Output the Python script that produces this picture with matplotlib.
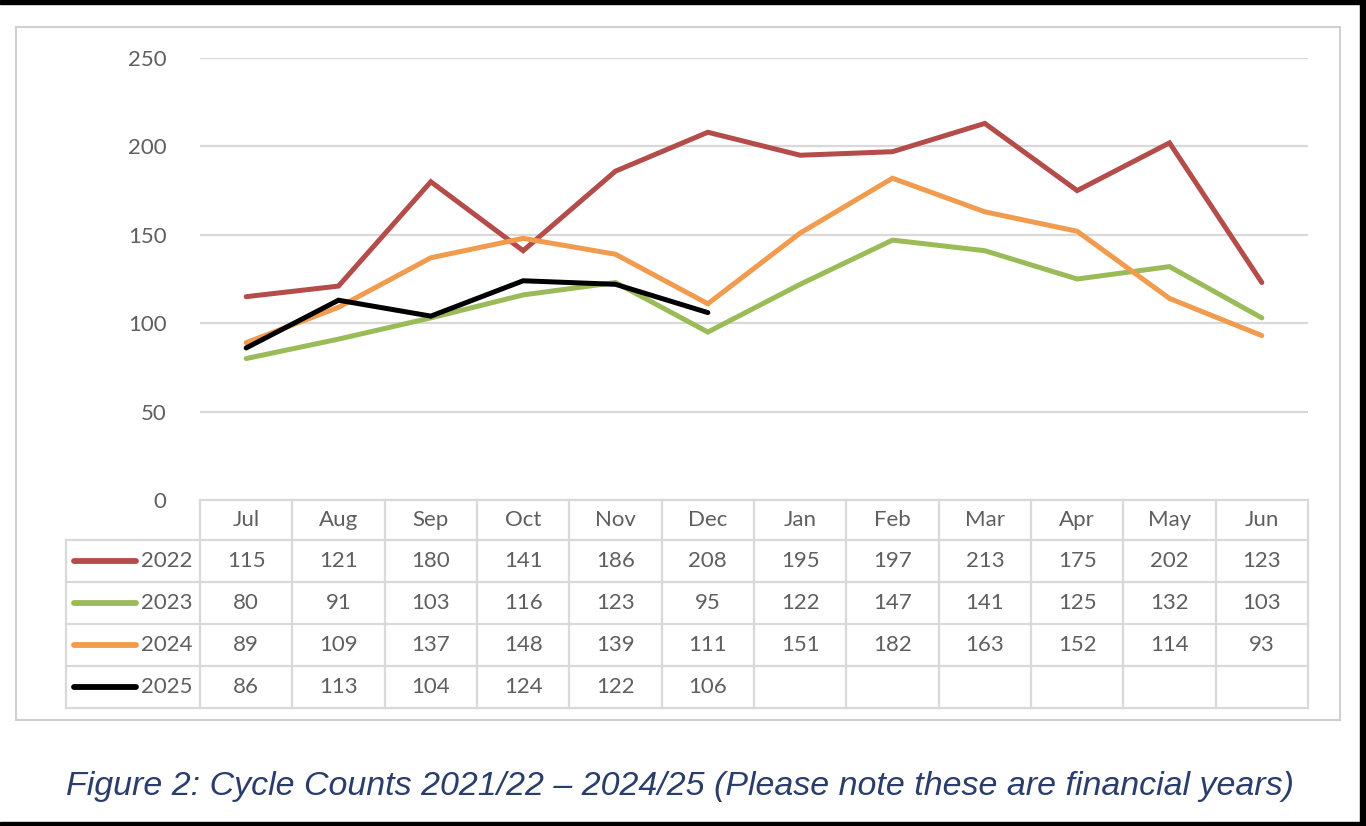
import matplotlib.pyplot as plt
import matplotlib.patches as patches
import numpy as np

# data
months = ["Jul", "Aug", "Sep", "Oct", "Nov", "Dec", "Jan", "Feb", "Mar", "Apr", "May", "Jun"]
years = ["2022", "2023", "2024", "2025"]
counts_2022 = [115, 121, 180, 141, 186, 208, 195, 197, 213, 175, 202, 123]
counts_2023 = [80, 91, 103, 116, 123, 95, 122, 147, 141, 125, 132, 103]
counts_2024 = [89, 109, 137, 148, 139, 111, 151, 182, 163, 152, 114, 93]
counts_2025 = [86, 113, 104, 124, 122, 106]
y_ticks = [0, 50, 100, 150, 200, 250]
colors = ["#b44c4a", "#9bbb59", "#f19b4f", "#000000"]
caption = "Figure 2: Cycle Counts 2021/22 \u2013 2024/25 (Please note these are financial years)"

series = [counts_2022, counts_2023, counts_2024, counts_2025]

W, H = 1366, 826
grid_col = "#d9d9d9"
text_col = "#5f5f5f"
font = "Lato"
fs = 16

fig = plt.figure(figsize=(W / 100, H / 100), dpi=100)
fig.patch.set_facecolor("white")

# black frame around the picture (top, right, bottom)
frame = fig.add_axes([0, 0, 1, 1], zorder=-5)
frame.set_xlim(0, W)
frame.set_ylim(H, 0)
frame.axis("off")
frame.add_patch(patches.Rectangle((0, 0), W, 4, color="black"))
frame.add_patch(patches.Rectangle((1360, 0), W - 1360, H, color="black"))
frame.add_patch(patches.Rectangle((0, 822), W, H - 822, color="black"))
# light chart border
frame.add_patch(patches.Rectangle((16, 27), 1340 - 16, 720 - 27, fill=False,
                                  edgecolor="#d0d0d0", lw=1.5))

# plot area
x0, x1, ytop, ybot = 200, 1308, 58, 500
ax = fig.add_axes([x0 / W, (H - ybot) / H, (x1 - x0) / W, (ybot - ytop) / H])
x = np.arange(len(months))
for vals, c in zip(series, colors):
    ax.plot(x[:len(vals)], vals, color=c, lw=3.6, solid_capstyle="round",
            solid_joinstyle="miter")
ax.set_xlim(-0.5, len(months) - 0.5)
ax.set_ylim(0, 250)
ax.set_yticks(y_ticks)
ax.set_yticklabels([str(t) for t in y_ticks], fontsize=fs, color=text_col, fontname=font)
ax.tick_params(axis="y", length=0, pad=24)
ax.set_xticks([])
for t in y_ticks[1:]:
    ax.axhline(t, color=grid_col, lw=1.6, zorder=0)
for s in ax.spines.values():
    s.set_visible(False)
ax.patch.set_alpha(0)

# data table under the plot
tx0, ty0, row_h, head_h = 66, 500, 42, 40
col_w = (x1 - x0) / len(months)
tb = fig.add_axes([0, 0, 1, 1], zorder=2)
tb.set_xlim(0, W)
tb.set_ylim(H, 0)
tb.axis("off")
n_rows = len(years)
ybottom = ty0 + head_h + n_rows * row_h
lk = dict(color=grid_col, lw=1.6)
# horizontal lines
tb.plot([x0, x1], [ty0, ty0], **lk)
for r in range(n_rows + 1):
    yy = ty0 + head_h + r * row_h
    tb.plot([tx0, x1], [yy, yy], **lk)
# vertical lines
tb.plot([tx0, tx0], [ty0 + head_h, ybottom], **lk)
for i in range(len(months) + 1):
    xx = x0 + i * col_w
    tb.plot([xx, xx], [ty0, ybottom], **lk)
# header
for i, m in enumerate(months):
    tb.text(x0 + (i + 0.5) * col_w, ty0 + head_h / 2, m, ha="center", va="center",
            fontsize=fs, color=text_col, fontname=font)
# rows
for r, (yr, vals, c) in enumerate(zip(years, series, colors)):
    yc = ty0 + head_h + (r + 0.5) * row_h
    tb.plot([74, 136], [yc, yc], color=c, lw=4.2, solid_capstyle="round")
    tb.text(193, yc, yr, ha="right", va="center", fontsize=fs, color=text_col,
            fontname=font)
    for i, v in enumerate(vals):
        tb.text(x0 + (i + 0.5) * col_w, yc, str(v), ha="center", va="center",
                fontsize=fs, color=text_col, fontname=font)

# caption
tb.text(680, 786, caption, ha="center", va="center", fontsize=24.5, style="italic",
        color="#2b3d6b", fontname="Liberation Sans")

fig.savefig("out.png", dpi=100, facecolor="white")
